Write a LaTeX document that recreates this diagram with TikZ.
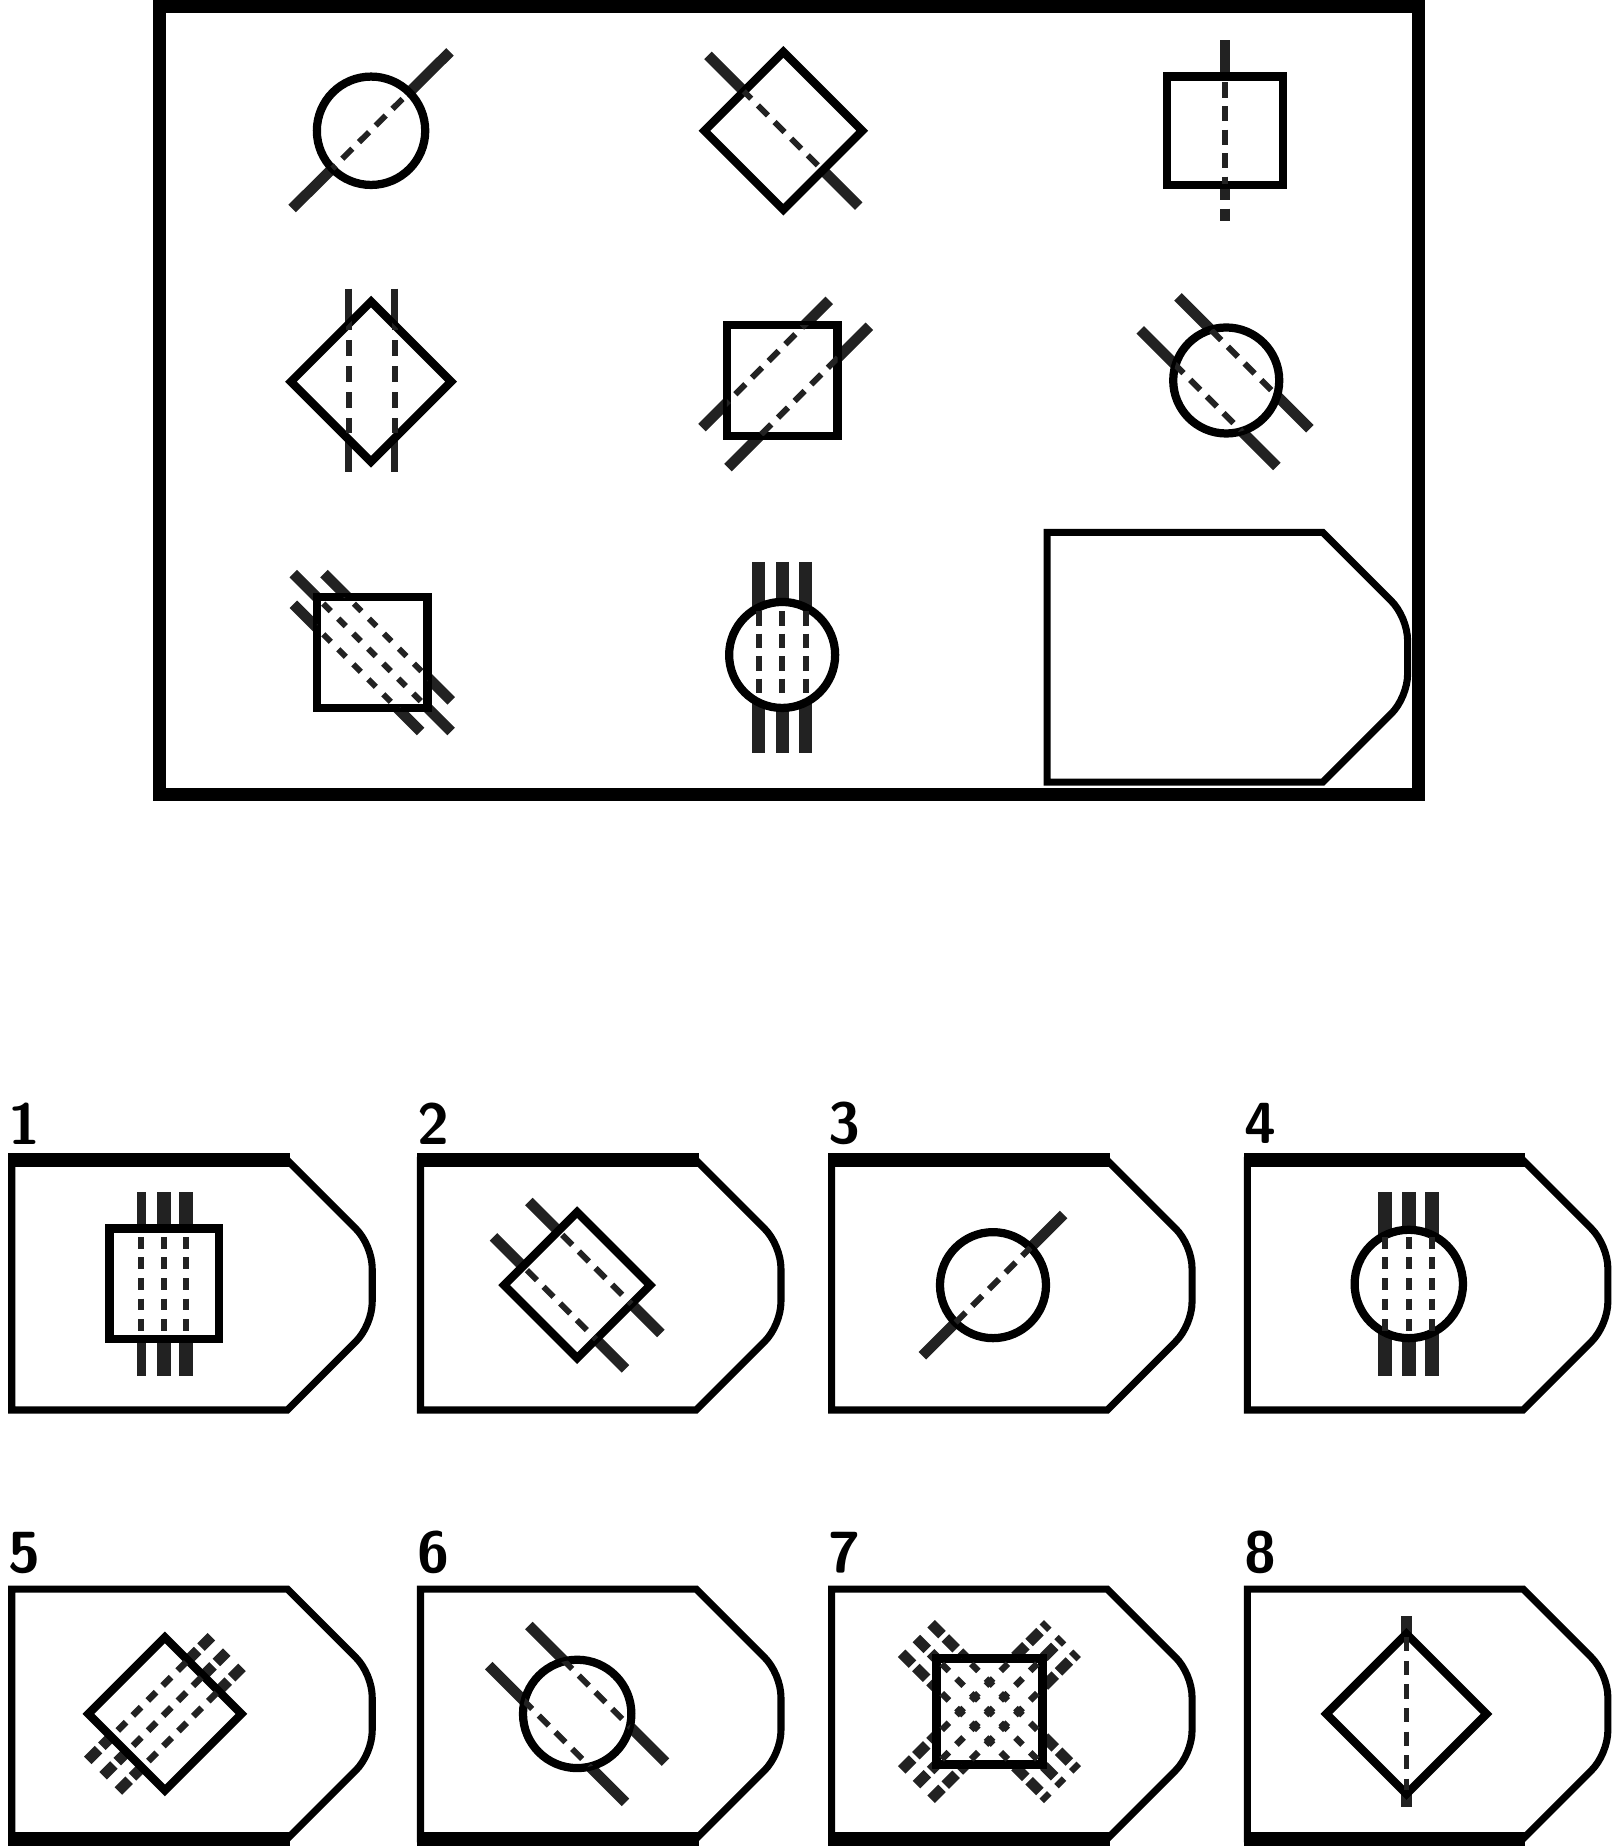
\documentclass[tikz,border=0pt]{standalone}
\usepackage{tikz}
\usetikzlibrary{positioning}
\definecolor{figDark}{RGB}{34,34,34}
\definecolor{figBlack}{RGB}{0,0,0}

\begin{document}
\begin{tikzpicture}[x=0.1mm,y=-0.1mm,
    frameline/.style={figBlack,line width=0.6mm,fill=white,line join=miter},
    shapeline/.style={figBlack,line width=0.7mm,line join=miter},
    extline/.style={figDark,line width=0.9mm},
    barline/.style={figDark,line width=1.2mm},
    innerdash/.style={figDark,line width=0.5mm,dash pattern=on 1.2mm off 0.8mm},
    numlabel/.style={figBlack,font=\sffamily\bfseries\fontsize{14}{14}\selectfont},
    answerframe/.pic={
      \draw[frameline] (0,0) -- (234,0) -- (292,58) .. controls (300,66) and (306,80) .. (306,92)
        -- (306,120) .. controls (306,132) and (300,146) .. (292,154) -- (234,212) -- (0,212) -- cycle;
    }]
    \useasboundingbox (0,0) rectangle (1371,1568);

    % puzzle grid
    \draw[figBlack,line width=1.1mm] (135.5,5.5) rectangle (1204.5,674.5);

    \draw[extline] (248,177) -- (382,44);
    \draw[shapeline,fill=white] (315,111) circle[radius=4.6mm];
    \begin{scope}
      \clip (315,111) circle[radius=4.6mm];
      \draw[innerdash] (248,177) -- (382,44);
    \end{scope}

    \draw[extline] (601,47) -- (729,175);
    \draw[shapeline,fill=white] (665,44) -- (732,111) -- (665,178) -- (598,111) -- cycle;
    \begin{scope}
      \clip (665,44) -- (732,111) -- (665,178) -- (598,111) -- cycle;
      \draw[innerdash] (601,47) -- (729,175);
    \end{scope}

    \draw[extline] (1040,34) -- (1040,66);
    \draw[extline,dash pattern=on 1.1mm off 0.7mm] (1040,159) -- (1040,190);
    \draw[shapeline,fill=white] (991,65) rectangle (1089,157);
    \draw[innerdash,dash pattern=on 1.3mm off 0.7mm] (1040,70) -- (1040,156);

    \foreach \x in {296,335}
      \draw[extline,line width=0.6mm] (\x,245) -- (\x,401);
    \draw[shapeline,fill=white] (315,256) -- (383,324) -- (315,392) -- (247,324) -- cycle;
    \begin{scope}
      \clip (315,256) -- (383,324) -- (315,392) -- (247,324) -- cycle;
      \foreach \x in {296,335}
        \draw[innerdash,dash pattern=on 1.3mm off 0.9mm] (\x,245) -- (\x,401);
    \end{scope}

    \draw[extline] (596,363) -- (704,255);
    \draw[extline] (618,397) -- (738,277);
    \draw[shapeline,fill=white] (617,276) rectangle (711,370);
    \begin{scope}
      \clip (617,276) rectangle (711,370);
      \draw[innerdash] (596,363) -- (704,255);
      \draw[innerdash] (618,397) -- (738,277);
    \end{scope}

    \draw[extline] (1000,252) -- (1112,364);
    \draw[extline] (968,280) -- (1084,396);
    \draw[shapeline,fill=white] (1041,323) circle[radius=4.5mm];
    \begin{scope}
      \clip (1041,323) circle[radius=4.5mm];
      \draw[innerdash] (1000,252) -- (1112,364);
      \draw[innerdash] (968,280) -- (1084,396);
    \end{scope}

    \foreach \a/\b/\c/\d in {249/487/383/621, 275/487/383/595, 249/513/357/621}
      \draw[extline] (\a,\b) -- (\c,\d);
    \draw[shapeline,fill=white] (269,507) rectangle (363,601);
    \begin{scope}
      \clip (269,507) rectangle (363,601);
      \foreach \a/\b/\c/\d in {249/487/383/621, 275/487/383/595, 249/513/357/621}
        \draw[innerdash,dash pattern=on 0.9mm off 0.9mm] (\a,\b) -- (\c,\d);
    \end{scope}

    \foreach \x in {644,664,684}
      \draw[barline,line width=1.1mm] (\x,477) -- (\x,639);
    \draw[shapeline,fill=white] (664,556) circle[radius=4.5mm];
    \begin{scope}
      \clip (664,556) circle[radius=4.5mm];
      \foreach \x in {644,664,684}
        \draw[innerdash,dash pattern=on 1.25mm off 0.65mm] (\x,519) -- (\x,589);
    \end{scope}

    \pic at (889,452) {answerframe};

    % answer choices
    \foreach \x/\y/\n in {10/985/1, 357/985/2, 706/985/3, 1059/985/4,
                          10/1349/5, 357/1349/6, 706/1349/7, 1059/1349/8} {
      \pic at (\x,\y) {answerframe};
      \node[numlabel] (num\n) at ({\x+11},{\y-31}) {\n};
    }
    \foreach \x in {10,357,706,1059} {
      \fill[figBlack] ({\x-3},979) rectangle ({\x+236},991);
      \fill[figBlack] ({\x-3},1555) rectangle ({\x+236},1567);
    }

    \draw[barline,line width=0.8mm] (120,1012) -- (120,1168);
    \foreach \x in {139,158}
      \draw[barline] (\x,1012) -- (\x,1168);
    \draw[shapeline,fill=white] (93,1043) rectangle (186,1137);
    \foreach \x in {120,139,158}
      \draw[innerdash,dash pattern=on 1mm off 0.75mm] (\x,1050) -- (\x,1132);

    \draw[extline] (449,1020) -- (561,1132);
    \draw[extline] (419,1050) -- (531,1162);
    \draw[shapeline,fill=white] (490,1029) -- (552,1091) -- (490,1153) -- (428,1091) -- cycle;
    \begin{scope}
      \clip (490,1029) -- (552,1091) -- (490,1153) -- (428,1091) -- cycle;
      \draw[innerdash] (449,1020) -- (561,1132);
      \draw[innerdash] (419,1050) -- (531,1162);
    \end{scope}

    \draw[extline] (783,1151) -- (903,1031);
    \draw[shapeline,fill=white] (843,1091) circle[radius=4.5mm];
    \begin{scope}
      \clip (843,1091) circle[radius=4.5mm];
      \draw[innerdash] (783,1151) -- (903,1031);
    \end{scope}

    \foreach \x in {1176,1196,1216}
      \draw[barline] (\x,1012) -- (\x,1168);
    \draw[shapeline,fill=white] (1196,1090) circle[radius=4.6mm];
    \begin{scope}
      \clip (1196,1090) circle[radius=4.6mm];
      \foreach \x in {1176,1196,1216}
        \draw[innerdash,dash pattern=on 1mm off 0.75mm] (\x,1050) -- (\x,1132);
    \end{scope}

    \foreach \a/\b/\c/\d in {74.5/1494.5/179.5/1389.5, 87.5/1507.5/192.5/1402.5, 100.5/1520.5/205.5/1415.5}
      \draw[extline,dash pattern=on 1.3mm off 0.4mm] (\a,\b) -- (\c,\d);
    \draw[shapeline,fill=white] (140,1390) -- (205,1455) -- (140,1520) -- (75,1455) -- cycle;
    \begin{scope}
      \clip (140,1390) -- (205,1455) -- (140,1520) -- (75,1455) -- cycle;
      \foreach \a/\b/\c/\d in {74.5/1494.5/179.5/1389.5, 87.5/1507.5/192.5/1402.5, 100.5/1520.5/205.5/1415.5}
        \draw[innerdash,line width=0.55mm,dash pattern=on 1mm off 0.8mm] (\a,\b) -- (\c,\d);
    \end{scope}

    \draw[extline] (449,1380) -- (565,1496);
    \draw[extline] (415,1414) -- (531,1530);
    \draw[shapeline,fill=white] (490,1455) circle[radius=4.6mm];
    \begin{scope}
      \clip (490,1455) circle[radius=4.6mm];
      \draw[innerdash] (449,1380) -- (565,1496);
      \draw[innerdash] (415,1414) -- (531,1530);
    \end{scope}

    \foreach \a/\b/\c/\d in {778/1391/902/1515, 790.5/1378.5/914.5/1502.5, 765.5/1403.5/889.5/1527.5,
                             778/1515/902/1391, 790.5/1527.5/914.5/1403.5, 765.5/1502.5/889.5/1378.5}
      \draw[extline,dash pattern=on 1.3mm off 0.4mm] (\a,\b) -- (\c,\d);
    \draw[shapeline,fill=white] (795,1408) rectangle (885,1498);
    \begin{scope}
      \clip (795,1408) rectangle (885,1498);
      \foreach \a/\b/\c/\d in {778/1391/902/1515, 790.5/1378.5/914.5/1502.5, 765.5/1403.5/889.5/1527.5,
                               778/1515/902/1391, 790.5/1527.5/914.5/1403.5, 765.5/1502.5/889.5/1378.5}
        \draw[innerdash,line width=0.55mm,dash pattern=on 0.85mm off 0.92mm,dash phase=0.5mm] (\a,\b) -- (\c,\d);
    \end{scope}

    \draw[extline] (1194,1372) -- (1194,1534);
    \draw[shapeline,fill=white] (1194,1387) -- (1262,1455) -- (1194,1523) -- (1126,1455) -- cycle;
    \begin{scope}
      \clip (1194,1387) -- (1262,1455) -- (1194,1523) -- (1126,1455) -- cycle;
      \draw[innerdash] (1194,1390) -- (1194,1520);
    \end{scope}
\end{tikzpicture}
\end{document}
